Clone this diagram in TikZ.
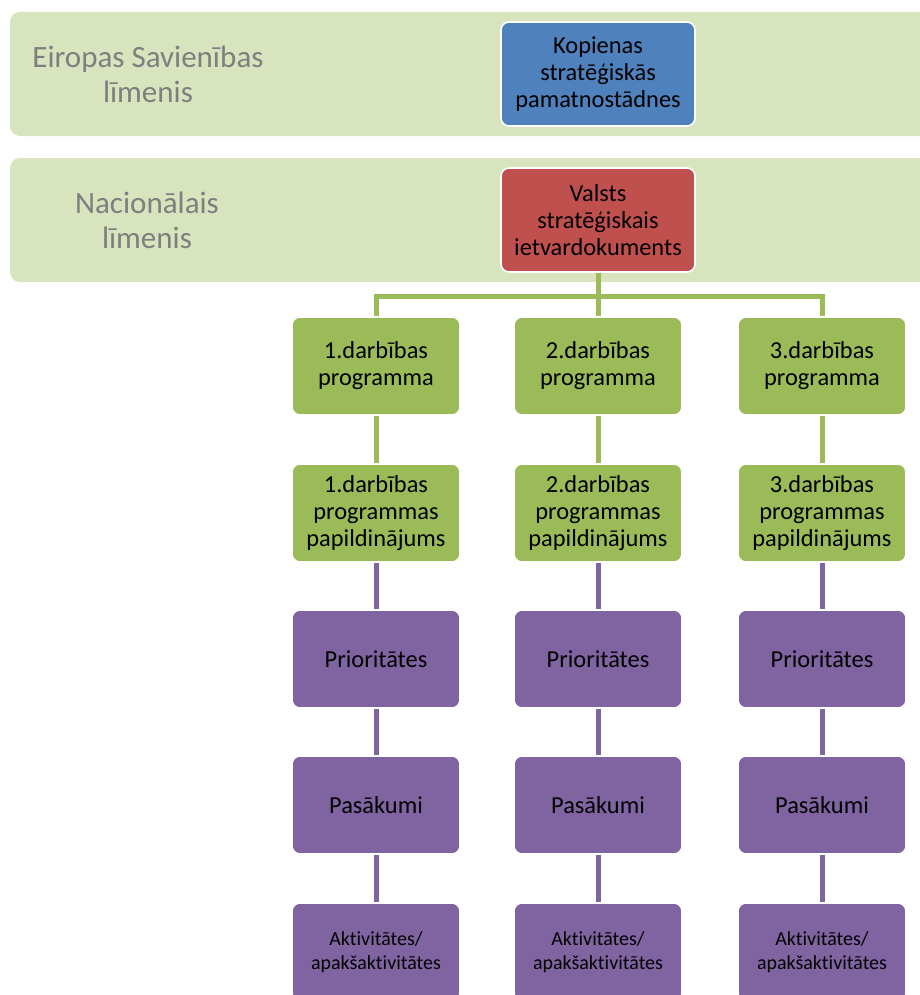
\documentclass[tikz,border=0pt]{standalone}
\usepackage{fontspec}
\setmainfont[Ligatures=NoCommon]{Carlito}
\definecolor{bandgreen}{HTML}{D7E4BD}
\definecolor{eublue}{HTML}{4F81BD}
\definecolor{natred}{HTML}{C0504D}
\definecolor{proggreen}{HTML}{9BBB59}
\definecolor{actviolet}{HTML}{8064A2}
\definecolor{lvlgray}{HTML}{7F7F7F}
\begin{document}
\begin{tikzpicture}[x=0.5pt, y=-0.5pt,
    box/.style = {draw=white, line width=0.8pt, rounded corners=4pt, align=center, inner sep=2pt, font=\fontsize{12.2}{13.5}\selectfont},
    topbox/.style = {box, minimum width=97pt, minimum height=52pt},
    prog/.style = {box, fill=proggreen, minimum width=84pt, minimum height=49pt},
    act/.style = {box, fill=actviolet, minimum width=84pt, minimum height=49pt},
    actsmall/.style = {act, font=\fontsize{10}{12}\selectfont},
    lvl/.style = {text=lvlgray, align=center, font=\fontsize{15.5}{17.5}\selectfont},
    gline/.style = {proggreen, line width=2.5pt},
    vline/.style = {actviolet, line width=2.5pt}]
  \clip (0,0) rectangle (920,995);
  % level bands
  \fill[bandgreen, rounded corners=5pt] (10,12) rectangle (950,136);
  \fill[bandgreen, rounded corners=5pt] (10,158) rectangle (950,282);

  \node[lvl] (eu)  at (148,74)  {Eiropas Savienības\\līmenis};
  \node[lvl] (nat) at (147,220) {Nacionālais\\līmenis};

  \node[topbox, fill=eublue] (kop)    at (598,74)  {Kopienas\\stratēģiskās\\pamatnostādnes};
  \node[topbox, fill=natred] (valsts) at (598,220) {Valsts\\stratēģiskais\\ietvardokuments};

  \node[prog] (p1) at (376,366) {1.darbības\\programma};
  \node[prog] (p2) at (598,366) {2.darbības\\programma};
  \node[prog] (p3) at (822,366) {3.darbības\\programma};

  \node[prog] (s1) at (376,513) {1.darbības\\programmas\\papildinājums};
  \node[prog] (s2) at (598,513) {2.darbības\\programmas\\papildinājums};
  \node[prog] (s3) at (822,513) {3.darbības\\programmas\\papildinājums};

  \node[act] (pr1) at (376,659) {Prioritātes};
  \node[act] (pr2) at (598,659) {Prioritātes};
  \node[act] (pr3) at (822,659) {Prioritātes};

  \node[act] (pa1) at (376,805) {Pasākumi};
  \node[act] (pa2) at (598,805) {Pasākumi};
  \node[act] (pa3) at (822,805) {Pasākumi};

  \node[actsmall] (ak1) at (376,952) {Aktivitātes/\\apakšaktivitātes};
  \node[actsmall] (ak2) at (598,952) {Aktivitātes/\\apakšaktivitātes};
  \node[actsmall] (ak3) at (822,952) {Aktivitātes/\\apakšaktivitātes};

  \coordinate (bus) at (598,296);
  \draw[gline] (valsts.south) -- (bus)
        (p1.north) |- (bus) -| (p3.north)
        (bus) -- (p2.north)
        (p1) -- (s1)
        (p2) -- (s2)
        (p3) -- (s3);
  \draw[vline] (s1) -- (pr1)
        (s2) -- (pr2)
        (s3) -- (pr3)
        (pr1) -- (pa1)
        (pr2) -- (pa2)
        (pr3) -- (pa3)
        (pa1) -- (ak1)
        (pa2) -- (ak2)
        (pa3) -- (ak3);
\end{tikzpicture}
\end{document}
